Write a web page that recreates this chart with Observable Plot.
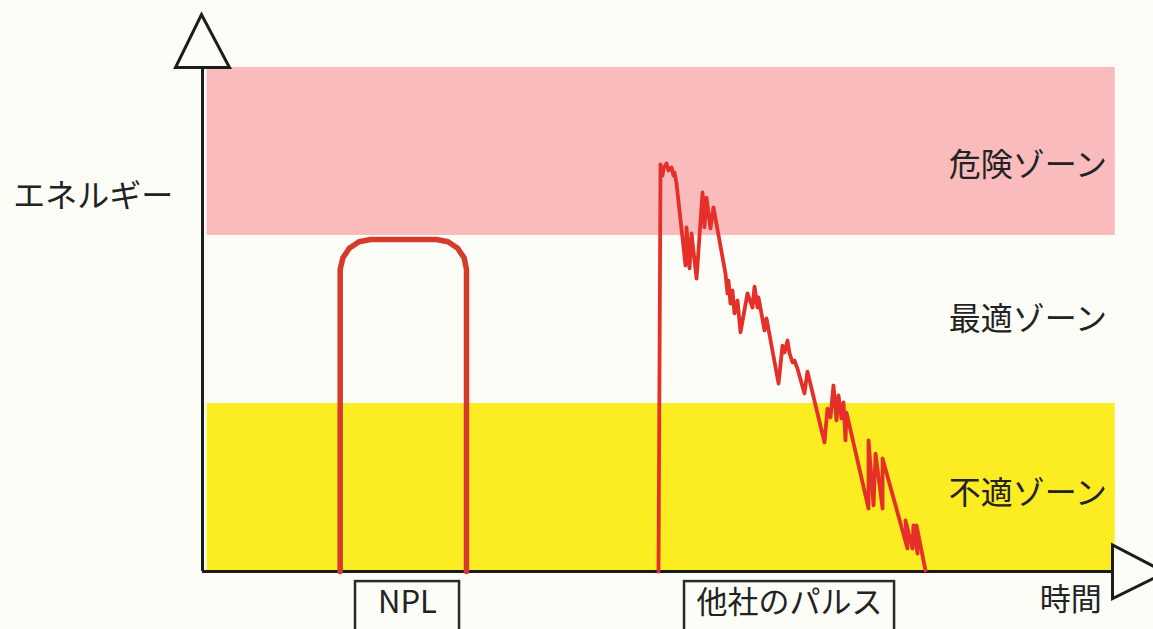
<!DOCTYPE html>
<html lang="ja">
<head>
<meta charset="utf-8">
<script src="https://cdn.jsdelivr.net/npm/d3@7"></script>
<script src="https://cdn.jsdelivr.net/npm/@observablehq/plot@0.6"></script>
<style>
  html, body { margin: 0; padding: 0; background: #fdfdf8; overflow: hidden; }
  #chart svg { display: block; }
</style>
</head>
<body>
<div id="chart"></div>
<script>
// ---- data ----
const zoneNames = ["不適ゾーン", "最適ゾーン", "危険ゾーン"];
const zoneLow = [0, 1, 2];
const zoneHigh = [1, 2, 3];

// NPL pulse (time, energy)
const nplTime = [15.13, 15.13, 15.42, 16.13, 17.20, 18.46, 25.71, 26.98, 28.04, 28.76, 29.01, 29.01];
const nplEnergy = [0, 1.798, 1.866, 1.924, 1.963, 1.976, 1.976, 1.963, 1.924, 1.866, 1.798, 0];

// competitor pulse (time, energy)
const otherTime = [
  50.11, 50.33, 50.55, 50.66, 50.99, 51.21, 51.54, 51.76, 51.87, 52.09,
  53.08, 53.19, 53.52, 53.74, 54.29, 54.95, 55.16, 55.38, 55.82, 56.15,
  57.47, 57.69, 57.80, 58.02, 58.24, 58.46, 58.79, 59.12, 59.89, 60.44,
  60.66, 60.99, 61.10, 61.76, 61.98, 63.30, 63.74, 63.96, 64.29, 64.51,
  64.84, 65.05, 65.38, 66.15, 66.48, 68.35, 68.68, 69.01, 69.34, 69.67,
  69.89, 70.22, 70.44, 70.66, 70.77, 73.19, 73.19, 73.74, 73.96, 74.73,
  74.73, 77.47, 77.25, 78.02, 78.13, 78.57, 78.46, 79.45
];
const otherEnergy = [
  0, 2.423, 2.357, 2.399, 2.429, 2.387, 2.405, 2.357, 2.375, 2.310,
  1.821, 2.048, 1.804, 2.012, 1.744, 2.256, 2.048, 2.226, 2.042, 2.167,
  1.774, 1.655, 1.732, 1.595, 1.673, 1.536, 1.613, 1.423, 1.655, 1.571,
  1.696, 1.571, 1.631, 1.435, 1.506, 1.119, 1.345, 1.304, 1.375, 1.298,
  1.244, 1.256, 1.208, 1.060, 1.190, 0.768, 0.970, 0.917, 1.107, 0.899,
  1.048, 0.911, 1.006, 0.780, 0.946, 0.375, 0.780, 0.393, 0.702, 0.375,
  0.673, 0.137, 0.304, 0.137, 0.274, 0.107, 0.274, 0.006
];

const pulseLabels = ["NPL", "他社のパルス"];
const yAxisLabel = "エネルギー";
const xAxisLabel = "時間";

// ---- build tables ----
const zones = zoneNames.map((name, i) => ({ name, lo: zoneLow[i], hi: zoneHigh[i] }));
const npl = nplTime.map((t, i) => ({ t, e: nplEnergy[i] }));
const other = otherTime.map((t, i) => ({ t, e: otherEnergy[i] }));

// layout helpers (styling, not data)
const BG = "#fdfdf8";
const INK = "#1c1c1c";
const FONT = "'Noto Sans CJK JP', 'Noto Sans', sans-serif";
const zoneLabelShift = { "危険ゾーン": -0.085, "最適ゾーン": 0.0, "不適ゾーン": -0.035 };
const labelBoxes = [
  { text: pulseLabels[0], cx: 22.53, w: 11.43 },
  { text: pulseLabels[1], cx: 64.51, w: 23.08 }
];

const upArrow = {
  draw(ctx) { ctx.moveTo(-27, 0); ctx.lineTo(27, 0); ctx.lineTo(-1, -53); ctx.closePath(); }
};
const rightArrow = {
  draw(ctx) { ctx.moveTo(0, -26.5); ctx.lineTo(0, 27); ctx.lineTo(53, 1); ctx.closePath(); }
};

const chart = Plot.plot({
  width: 1153,
  height: 629,
  margin: 0,
  style: { background: BG, fontFamily: FONT, overflow: "hidden" },
  x: { domain: [0, 100], range: [202, 1112], axis: null },
  y: { domain: [0, 3], range: [571, 67], axis: null },
  color: { domain: zoneNames, range: ["#fcec22", "transparent", "#f9bbbb"] },
  marks: [
    // zone bands
    Plot.rect(zones, { x1: () => 0.5, x2: () => 100.3, y1: "lo", y2: "hi", fill: "name" }),
    // axes
    Plot.ruleX([0], { y1: 0, y2: 3, stroke: INK, strokeWidth: 3 }),
    Plot.ruleY([0], { x1: 0, x2: 100, stroke: INK, strokeWidth: 3 }),
    Plot.dot([{ t: 0, e: 3 }], { x: "t", y: "e", symbol: upArrow, r: 10, fill: BG, stroke: INK, strokeWidth: 3, strokeLinejoin: "miter" }),
    Plot.dot([{ t: 100, e: 0 }], { x: "t", y: "e", symbol: rightArrow, r: 10, fill: BG, stroke: INK, strokeWidth: 3, strokeLinejoin: "miter" }),
    // pulses
    Plot.line(npl, { x: "t", y: "e", stroke: "#d53a2c", strokeWidth: 5.5, strokeLinejoin: "round" }),
    Plot.line(other, { x: "t", y: "e", stroke: "#e5302a", strokeWidth: 3.8, strokeLinejoin: "round" }),
    // zone labels
    Plot.text(zones, {
      x: () => 90.7,
      y: d => (d.lo + d.hi) / 2 + zoneLabelShift[d.name],
      text: "name", fontSize: 32, fill: "#222", fontFamily: FONT
    }),
    // axis labels
    Plot.text([yAxisLabel], { x: () => -12.0, y: () => 2.23, text: d => d, fontSize: 32, fill: "#222", fontFamily: FONT }),
    Plot.text([xAxisLabel], { x: () => 95.4, y: () => -0.17, text: d => d, fontSize: 31, fill: "#222", fontFamily: FONT }),
    // pulse label boxes
    Plot.rect(labelBoxes, {
      x1: d => d.cx - d.w / 2, x2: d => d.cx + d.w / 2,
      y1: () => -0.06, y2: () => -0.6,
      fill: "none", stroke: "#2a2a2a", strokeWidth: 2.5
    }),
    Plot.text(labelBoxes, { x: "cx", y: () => -0.19, text: "text", fontSize: 31, fill: "#222", fontFamily: FONT })
  ]
});

document.getElementById("chart").appendChild(chart);
</script>
</body>
</html>
